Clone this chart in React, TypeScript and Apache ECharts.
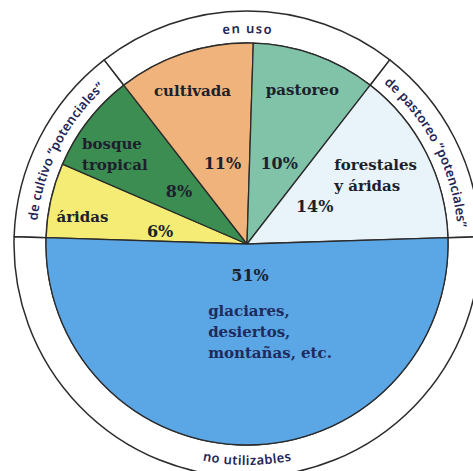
import React, { useEffect, useRef } from 'react';
import * as echarts from 'echarts';

// ---- data ----
const categories = ['áridas', 'bosque tropical', 'cultivada', 'pastoreo', 'forestales y áridas', 'glaciares, desiertos, montañas, etc.'];
const shares = [6, 8, 11, 10, 14, 51];
const nameLines = [
  ['áridas'],
  ['bosque', 'tropical'],
  ['cultivada'],
  ['pastoreo'],
  ['forestales', 'y áridas'],
  ['glaciares,', 'desiertos,', 'montañas, etc.'],
];
const ringCategories = ['de cultivo “potenciales”', 'en uso', 'de pastoreo “potenciales”', 'no utilizables'];
const ringShares = [14, 21, 14, 51];

// ---- styles / layout ----
const sliceColors = ['#f4ec74', '#3c8d52', '#efb37b', '#80c3a9', '#e9f3fa', '#5ba7e6'];
const nameNudge = [[-5, 9], [-3, 11], [-4, 2], [0, 0], [-17, 6], [23, -76]];
const pctNudge = [[-3, 6], [0, 0], [2, 1], [3, 0], [-9, 2], [3, -55]];
const CX = 247;
const CY = 244;
const R_IN = 201;
const R_OUT = 233;
const R_TEXT = 216;
const RING_FONT = '600 13px "Noto Sans"';
const RING_COLOR = '#1f2556';
const INK = '#1c1f2c';
const NAVY = '#1f2b5c';

const total = shares.reduce((a, b) => a + b, 0);
const lastDeg = (shares[shares.length - 1] / total) * 360;
const startAngle = 180 - (lastDeg - 180) / 2;

function ringMidAngles(): number[] {
  const t = ringShares.reduce((a, b) => a + b, 0);
  const mids: number[] = [];
  let a = startAngle;
  ringShares.forEach((v) => {
    const span = (v / t) * 360;
    mids.push(a - span / 2);
    a -= span;
  });
  return mids;
}

function arcText(text: string, midDeg: number, radius: number, outward: boolean, spacing: number) {
  const canvas = document.createElement('canvas');
  const ctx = canvas.getContext('2d')!;
  ctx.font = RING_FONT;
  const chars = Array.from(text);
  const widths = chars.map((c) => ctx.measureText(c).width);
  const totalW = widths.reduce((a, b) => a + b, 0) + spacing * (chars.length - 1);
  const mid = (midDeg * Math.PI) / 180;
  const els: any[] = [];
  let acc = 0;
  chars.forEach((ch, i) => {
    const s = acc + widths[i] / 2;
    const off = (s - totalW / 2) / radius;
    const theta = outward ? mid - off : mid + off;
    const x = CX + radius * Math.cos(theta);
    const y = CY - radius * Math.sin(theta);
    const rotation = outward ? theta - Math.PI / 2 : theta + Math.PI / 2;
    els.push({
      type: 'text',
      x,
      y,
      rotation,
      z: 100,
      silent: true,
      style: { text: ch, font: RING_FONT, fill: RING_COLOR, align: 'center', verticalAlign: 'middle' },
    });
    acc += widths[i] + spacing;
  });
  return els;
}

export default function App() {
  const ref = useRef<HTMLDivElement>(null);
  useEffect(() => {
    if (!ref.current) return;
    const chart = echarts.init(ref.current, null, { renderer: 'svg' });
    const mids = ringMidAngles();
    const ringEls: any[] = [];
    ringCategories.forEach((txt, i) => {
      const m = mids[i];
      const outward = Math.sin((m * Math.PI) / 180) >= 0;
      ringEls.push(...arcText(txt, m, R_TEXT, outward, txt === 'en uso' ? 1.5 : 0.3));
    });

    const serifRich = {
      n: { fontFamily: 'DejaVu Serif', fontWeight: 'bold', fontSize: 15, color: INK, lineHeight: 21, align: 'left' },
      g: { fontFamily: 'DejaVu Serif', fontWeight: 'bold', fontSize: 15, color: NAVY, lineHeight: 21, align: 'left' },
    };
    const clear = { color: 'rgba(0,0,0,0)', borderWidth: 0 };

    chart.setOption({
      animation: false,
      backgroundColor: '#ffffff',
      graphic: { z: 100, elements: ringEls },
      series: [
        {
          type: 'pie',
          name: 'ring',
          center: [CX, CY],
          radius: [R_IN, R_OUT],
          startAngle,
          clockwise: true,
          silent: true,
          emphasis: { disabled: true },
          label: { show: false },
          labelLine: { show: false },
          data: ringCategories.map((n, i) => ({
            name: n,
            value: ringShares[i],
            itemStyle: { color: '#ffffff', borderColor: '#2b2b2b', borderWidth: 1.5 },
          })),
        },
        {
          type: 'pie',
          name: 'land',
          center: [CX, CY],
          radius: [0, R_IN],
          startAngle,
          clockwise: true,
          silent: true,
          emphasis: { disabled: true },
          label: { show: false },
          labelLine: { show: false },
          data: categories.map((n, i) => ({
            name: n,
            value: shares[i],
            itemStyle: { color: sliceColors[i], borderColor: '#2b2b2b', borderWidth: 1.3 },
          })),
        },
        {
          type: 'pie',
          name: 'names',
          center: [CX, CY],
          radius: [120, R_IN],
          startAngle,
          clockwise: true,
          silent: true,
          emphasis: { disabled: true },
          itemStyle: clear,
          labelLine: { show: false },
          label: {
            show: true,
            position: 'inside',
            fontFamily: 'DejaVu Serif',
            fontWeight: 'bold',
            fontSize: 15,
            color: INK,
            formatter: (p: any) => {
              const key = p.dataIndex === categories.length - 1 ? 'g' : 'n';
              return nameLines[p.dataIndex].map((l) => `{${key}|${l}}`).join('\n');
            },
            rich: serifRich,
          },
          labelLayout: (p: any) => ({ dx: nameNudge[p.dataIndex][0], dy: nameNudge[p.dataIndex][1] }),
          data: categories.map((n, i) => ({ name: n, value: shares[i] })),
        },
        {
          type: 'pie',
          name: 'pct',
          center: [CX, CY],
          radius: [0, 166],
          startAngle,
          clockwise: true,
          silent: true,
          emphasis: { disabled: true },
          itemStyle: clear,
          labelLine: { show: false },
          label: {
            show: true,
            position: 'inside',
            fontFamily: 'DejaVu Serif',
            fontWeight: 'bold',
            fontSize: 16,
            color: INK,
            formatter: (p: any) => `${shares[p.dataIndex]}%`,
          },
          labelLayout: (p: any) => ({ dx: pctNudge[p.dataIndex][0], dy: pctNudge[p.dataIndex][1] }),
          data: categories.map((n, i) => ({ name: n, value: shares[i] })),
        },
      ],
    });
    return () => chart.dispose();
  }, []);
  return <div ref={ref} style={{ position: 'absolute', left: 0, top: 0, width: 473, height: 471 }} />;
}
